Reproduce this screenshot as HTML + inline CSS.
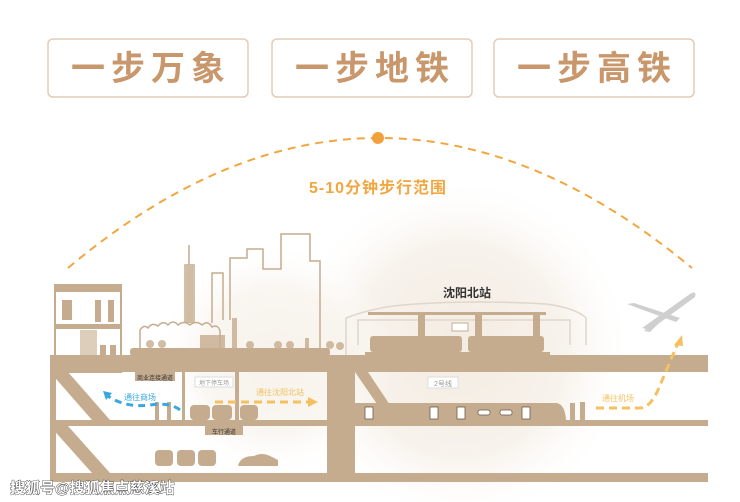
<!DOCTYPE html>
<html><head><meta charset="utf-8"><style>
html,body{margin:0;padding:0;background:#fff;}
svg{display:block}
text{font-family:"Liberation Sans","Noto Sans CJK SC",sans-serif;}
</style></head><body>
<svg width="740" height="502" viewBox="0 0 740 502" xmlns="http://www.w3.org/2000/svg">
<defs>
<radialGradient id="halo" cx="0.5" cy="0.5" r="0.5">
<stop offset="0" stop-color="#f3ece2"/>
<stop offset="0.6" stop-color="#f7f2eb"/>
<stop offset="1" stop-color="#fff" stop-opacity="0"/>
</radialGradient>
</defs>
<g fill="#fff" stroke="#e3cbb6" stroke-width="1.5">
<rect x="48" y="39" width="200" height="58" rx="5"/>
<rect x="272" y="39" width="200" height="58" rx="5"/>
<rect x="494" y="39" width="200" height="58" rx="5"/>
</g>
<g fill="#c9976c" font-size="34" font-weight="bold" text-anchor="middle" letter-spacing="6">
<text x="151" y="80">一步万象</text>
<text x="375" y="80">一步地铁</text>
<text x="597" y="80">一步高铁</text>
</g>
<circle cx="460" cy="350" r="175" fill="url(#halo)"/>
<circle cx="275" cy="360" r="120" fill="url(#halo)" opacity="0.7"/>
<path d="M68 268 Q378 8 692 268" fill="none" stroke="#f2a640" stroke-width="2" stroke-dasharray="8 6"/>
<circle cx="378" cy="138" r="6" fill="#f2a03c"/>
<text x="378" y="193" font-size="16" font-weight="bold" fill="#f2a640" text-anchor="middle" letter-spacing="1">5-10分钟步行范围</text>
<g fill="none" stroke="#c6ac8e" stroke-width="1.5">
<path d="M212 323 V273 H223 V320"/>
<path d="M230 320 V258 H247 V249 H263 V269 H281 V234 H310 V261 H320 V356"/>
<path d="M189 245 V265 M185 323 L185 265 L194 265 L194 323"/>
<path d="M140 356 V330 q4-6 8-2 q4-6 10-2 q5-6 10-1 q5-6 10 0 q6-5 12 0 q6-5 12 0 q6-5 10 2 q6-3 8 4 V356"/>
</g>
<g fill="none" stroke="#e0d6cc" stroke-width="1.5">
<path d="M346 356 V318 q30-12 70-14 q60-4 130 0 q30 4 40 14 V345"/>
<path d="M358 345 V320 H570 V345"/>
</g>
<g fill="#c6ac8e" opacity="0.8">
<rect x="186" y="266" width="7" height="57"/>
<rect x="200" y="335" width="25" height="21"/>
<rect x="232" y="318" width="5" height="38"/>
<circle cx="150" cy="344" r="4"/><circle cx="162" cy="344" r="4"/><circle cx="250" cy="345" r="4"/><circle cx="278" cy="345" r="4"/><circle cx="290" cy="345" r="4"/><circle cx="330" cy="345" r="4"/>
<circle cx="340" cy="346" r="4"/>
<rect x="305" y="338" width="4" height="18"/>
</g>
<text x="467" y="297" font-size="12" font-weight="bold" fill="#333" text-anchor="middle">沈阳北站</text>
<g fill="#c6ac8e">
<rect x="368" y="312" width="178" height="3"/>
<rect x="418" y="315" width="7" height="22"/>
<rect x="475" y="315" width="7" height="22"/>
<rect x="533" y="315" width="7" height="22"/>
<rect x="370" y="336" width="92" height="16" rx="3"/>
<rect x="468" y="336" width="76" height="16" rx="3"/>
<rect x="365" y="352" width="185" height="3"/>
</g>
<rect x="452" y="323" width="16" height="8" fill="#fff" stroke="#c6ac8e"/>
<rect x="55" y="285" width="66" height="87" fill="#fff" stroke="#c6ac8e" stroke-width="2"/>
<rect x="55" y="285" width="66" height="7" fill="#c6ac8e"/>
<rect x="55" y="324" width="66" height="5" fill="#c6ac8e"/>
<rect x="80" y="330" width="17" height="40" fill="#c6ac8e" opacity="0.6"/>
<g fill="#c6ac8e"><rect x="95" y="300" width="6" height="22"/><rect x="108" y="300" width="6" height="22"/><rect x="100" y="345" width="6" height="22"/><rect x="110" y="345" width="6" height="22"/><rect x="62" y="300" width="10" height="20"/></g>
<g fill="#c6ac8e">
<rect x="50" y="355" width="658" height="17"/>
<rect x="130" y="348" width="200" height="8" rx="3"/>
<rect x="50" y="420" width="658" height="6"/>
<rect x="50" y="473" width="658" height="9"/>
<rect x="327" y="355" width="28" height="127"/>
<rect x="50" y="372" width="6" height="110"/>
<rect x="182" y="372" width="3" height="50"/>
<rect x="235" y="372" width="4" height="50"/>
<polygon points="50,372 68,372 110,420 92,420"/>
<polygon points="50,426 68,426 110,473 92,473"/>
<polygon points="355,372 368,372 400,420 388,420"/>
<rect x="135" y="372" width="40" height="9"/>
<rect x="205" y="426" width="38" height="9"/>
<rect x="190" y="405" width="20" height="15" rx="4"/><rect x="212" y="405" width="20" height="15" rx="4"/><rect x="240" y="405" width="18" height="15" rx="4"/>
<rect x="155" y="450" width="18" height="16" rx="4"/><rect x="177" y="450" width="18" height="16" rx="4"/><rect x="198" y="450" width="18" height="16" rx="4"/>
<path d="M238 466 Q240 456 254 456 Q262 452 270 456 L278 460 V466 Z"/>
<path d="M355 403 H557 Q565 405 566 420 H355 Z"/>
<rect x="570" y="403" width="5" height="18"/><rect x="580" y="402" width="5" height="19"/>
<rect x="155" y="402" width="4" height="18"/><rect x="167" y="402" width="4" height="18"/>
</g>
<g fill="#fff" stroke="#6b5a48" stroke-width="0.8">
<rect x="365" y="407" width="8" height="12"/><rect x="430" y="407" width="8" height="12"/><rect x="457" y="407" width="8" height="12"/><rect x="522" y="407" width="8" height="12"/>
<rect x="478" y="410" width="12" height="5" rx="2"/><rect x="500" y="410" width="12" height="5" rx="2"/>
</g>
<rect x="428" y="377" width="30" height="11" fill="#fff" stroke="#ddd"/>
<text x="443" y="386" font-size="7" fill="#999" text-anchor="middle">2号线</text>
<rect x="195" y="377" width="38" height="10" fill="#fff" stroke="#ddd"/>
<text x="214" y="385" font-size="6" fill="#999" text-anchor="middle">地下停车场</text>
<text x="155" y="380" font-size="6" fill="#333" text-anchor="middle">商业连接通道</text>
<text x="224" y="434" font-size="6" fill="#333" text-anchor="middle">车行通道</text>
<path d="M180 410 Q170 402 150 405 Q125 408 108 396" fill="none" stroke="#3aa8e0" stroke-width="3" stroke-dasharray="7 5"/>
<polygon points="103,391 112,393 106,400" fill="#3aa8e0"/>
<text x="140" y="400" font-size="8" fill="#3aa8e0" text-anchor="middle">通往商场</text>
<path d="M215 402 H310" stroke="#f5c060" stroke-width="3" stroke-dasharray="8 5"/>
<polygon points="318,402 308,397 308,407" fill="#f5c060"/>
<text x="280" y="395" font-size="8" fill="#f5c060" text-anchor="middle">通往沈阳北站</text>
<path d="M596 408 H640 Q650 408 658 390 L678 343" fill="none" stroke="#f5c060" stroke-width="3" stroke-dasharray="8 5"/>
<polygon points="682,335 674,345 683,346" fill="#f5c060"/>
<text x="618" y="401" font-size="8" fill="#f5c060" text-anchor="middle">通往机场</text>
<g fill="#cfcfcf">
<path d="M642 328 L690 294 Q697 290 695 297 L650 330 Z"/>
<path d="M627 304 L634 303 L680 318 L676 322 Z"/>
<path d="M655 320 L664 318 L650 332 L644 331 Z"/>
</g>
<text x="10" y="493" font-size="15" font-weight="bold" fill="#fff" stroke="#333" stroke-width="0.8" paint-order="stroke">搜狐号@搜狐焦点慈溪站</text>
</svg>
</body></html>
